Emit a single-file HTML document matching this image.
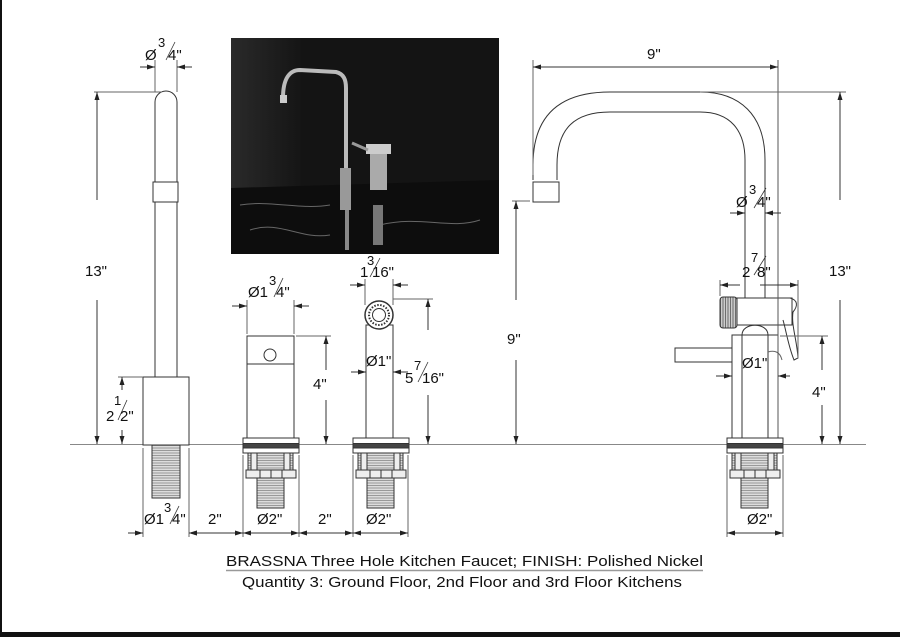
<!DOCTYPE html>
<html><head><meta charset="utf-8"><style>
html,body{margin:0;padding:0;background:#fff;}
svg{display:block;}
text{font-family:"Liberation Sans",sans-serif;fill:#111;}
</style></head><body>
<svg width="900" height="637" viewBox="0 0 900 637" xmlns="http://www.w3.org/2000/svg">
<defs>
<pattern id="thr" width="4" height="2.5" patternUnits="userSpaceOnUse"><rect width="4" height="2.5" fill="#ddd"/><line x1="0" y1="0.5" x2="4" y2="0.5" stroke="#888" stroke-width="0.8"/></pattern>
<pattern id="knurl" width="2.5" height="4" patternUnits="userSpaceOnUse"><rect width="2.5" height="4" fill="#ccc"/><line x1="0.5" y1="0" x2="0.5" y2="4" stroke="#555" stroke-width="0.8"/></pattern>
<marker id="a" markerWidth="8" markerHeight="6" refX="8" refY="3" orient="auto" markerUnits="userSpaceOnUse"><path d="M0,0.5 L8,3 L0,5.5z" fill="#222"/></marker>
<linearGradient id="wall" x1="0" x2="1"><stop offset="0" stop-color="#2a2a2a"/><stop offset="1" stop-color="#151515"/></linearGradient>
</defs>
<rect width="900" height="637" fill="#fff"/>
<rect x="0" y="0" width="2" height="637" fill="#111"/>
<rect x="0" y="632" width="900" height="5" fill="#111"/>

<!-- ground line -->
<line x1="70" y1="444.5" x2="866" y2="444.5" stroke="#888" stroke-width="1"/>

<g fill="none" stroke="#333" stroke-width="1">
<!-- LEFT FAUCET -->
<path d="M155,377 V102 A11,11 0 0 1 177,102 V377" fill="#fff"/>
<rect x="153" y="182" width="25" height="20" fill="#fff"/>
<rect x="143" y="377" width="46" height="68" fill="#fff"/>
<rect x="152" y="445" width="28" height="53" fill="url(#thr)"/>
<!-- dims left -->
<line x1="155" y1="60" x2="155" y2="92" stroke="#666"/>
<line x1="177" y1="60" x2="177" y2="92" stroke="#666"/>
<line x1="140" y1="67" x2="155" y2="67" marker-end="url(#a)"/>
<line x1="192" y1="67" x2="177" y2="67" marker-end="url(#a)"/>
<line x1="94" y1="92" x2="162" y2="92" stroke="#666"/>
<line x1="97" y1="200" x2="97" y2="92" marker-end="url(#a)"/>
<line x1="97" y1="300" x2="97" y2="444" marker-end="url(#a)"/>
<line x1="118" y1="377" x2="143" y2="377" stroke="#666"/>
<line x1="122" y1="390" x2="122" y2="377" marker-end="url(#a)"/>
<line x1="122" y1="430" x2="122" y2="444" marker-end="url(#a)"/>
<line x1="143" y1="448" x2="143" y2="537" stroke="#666"/>
<line x1="189" y1="448" x2="189" y2="537" stroke="#666"/>

<!-- MIDDLE HANDLE UNIT -->
<rect x="247" y="336" width="47" height="102" fill="#fff"/>
<line x1="247" y1="364" x2="294" y2="364"/>
<circle cx="270" cy="355" r="6"/>
<line x1="247" y1="300" x2="247" y2="334" stroke="#666"/>
<line x1="294" y1="300" x2="294" y2="334" stroke="#666"/>
<line x1="232" y1="306" x2="247" y2="306" marker-end="url(#a)"/>
<line x1="309" y1="306" x2="294" y2="306" marker-end="url(#a)"/>
<line x1="296" y1="336" x2="331" y2="336" stroke="#666"/>
<line x1="326" y1="370" x2="326" y2="336" marker-end="url(#a)"/>
<line x1="326" y1="400" x2="326" y2="444" marker-end="url(#a)"/>

<!-- SPRAYER UNIT -->
<rect x="366" y="325" width="27" height="113" fill="#fff"/>
<circle cx="379" cy="315" r="14" fill="#fff" stroke-width="1.5"/>
<circle cx="379" cy="315" r="10" stroke-dasharray="1.5,1.5" stroke-width="2"/>
<circle cx="379" cy="315" r="6.5"/>
<line x1="365" y1="279" x2="365" y2="305" stroke="#666"/>
<line x1="393" y1="279" x2="393" y2="305" stroke="#666"/>
<line x1="350" y1="285" x2="365" y2="285" marker-end="url(#a)"/>
<line x1="408" y1="285" x2="393" y2="285" marker-end="url(#a)"/>
<line x1="351" y1="372" x2="366" y2="372" marker-end="url(#a)"/>
<line x1="408" y1="372" x2="393" y2="372" marker-end="url(#a)"/>
<line x1="393" y1="299" x2="433" y2="299" stroke="#666"/>
<line x1="428" y1="330" x2="428" y2="299" marker-end="url(#a)"/>
<line x1="428" y1="395" x2="428" y2="444" marker-end="url(#a)"/>

<!-- RIGHT FAUCET -->
<path d="M533,180 V165 C533,115 560,92 610,92 H700 C740,92 765,115 765,160 V298" fill="none"/>
<path d="M557,180 V165 C557,128 575,112 610,112 H700 C730,112 745,130 745,160 V298" fill="none"/>
<rect x="533" y="182" width="26" height="20" fill="#fff"/>
<!-- sprayer head -->
<rect x="737" y="298" width="55" height="27" fill="#fff"/>
<rect x="720" y="297" width="17" height="31" rx="3" fill="url(#knurl)"/>
<path d="M790,298 C798,300 798,306 793,312 C791,325 797,340 798,358 L794,360 C788,345 786,330 783,320"/>
<path d="M742,335 C742,322 768,322 768,335" fill="#fff"/>
<rect x="732" y="335" width="46" height="103" fill="#fff"/>
<line x1="742" y1="335" x2="742" y2="438"/>
<line x1="768" y1="335" x2="768" y2="438"/>
<rect x="675" y="348" width="57" height="14" fill="#fff"/>
<path d="M768,352 C775,350 780,352 782,360" stroke="#666"/>
<!-- right dims -->
<line x1="533" y1="60" x2="533" y2="175" stroke="#666"/>
<line x1="778" y1="60" x2="778" y2="444" stroke="#555"/>
<line x1="548" y1="67" x2="533" y2="67" marker-end="url(#a)"/>
<line x1="760" y1="67" x2="778" y2="67" marker-end="url(#a)"/>
<line x1="548" y1="67" x2="760" y2="67"/>
<line x1="700" y1="92" x2="846" y2="92" stroke="#666"/>
<line x1="840" y1="200" x2="840" y2="92" marker-end="url(#a)"/>
<line x1="840" y1="300" x2="840" y2="444" marker-end="url(#a)"/>
<line x1="512" y1="201" x2="530" y2="201" stroke="#666"/>
<line x1="516" y1="300" x2="516" y2="201" marker-end="url(#a)"/>
<line x1="516" y1="360" x2="516" y2="444" marker-end="url(#a)"/>
<line x1="730" y1="213" x2="745" y2="213" marker-end="url(#a)"/>
<line x1="781" y1="213" x2="765" y2="213" marker-end="url(#a)"/>
<line x1="720" y1="280" x2="720" y2="296" stroke="#666"/>
<line x1="798" y1="280" x2="798" y2="358" stroke="#666"/>
<line x1="740" y1="285" x2="720" y2="285" marker-end="url(#a)"/>
<line x1="760" y1="285" x2="798" y2="285" marker-end="url(#a)"/>
<line x1="716" y1="376" x2="732" y2="376" marker-end="url(#a)"/>
<line x1="790" y1="376" x2="778" y2="376" marker-end="url(#a)"/>
<line x1="780" y1="336" x2="828" y2="336" stroke="#666"/>
<line x1="822" y1="370" x2="822" y2="336" marker-end="url(#a)"/>
<line x1="822" y1="405" x2="822" y2="444" marker-end="url(#a)"/>
</g>

<!-- base fittings -->
<g stroke="#333" stroke-width="1">
 <g id="fit">
  <rect x="243" y="438" width="56" height="15" fill="#fff"/>
  <rect x="243" y="443.5" width="56" height="4.5" fill="#444"/>
  <rect x="248" y="453" width="45" height="17" fill="url(#thr)"/>
  <rect x="251" y="453" width="6" height="17" fill="#eee"/>
  <rect x="284" y="453" width="6" height="17" fill="#eee"/>
  <rect x="246" y="470" width="50" height="8" fill="#eee"/>
  <line x1="260" y1="470" x2="260" y2="478"/><line x1="271" y1="470" x2="271" y2="478"/><line x1="282" y1="470" x2="282" y2="478"/>
  <rect x="257" y="478" width="27" height="30" fill="url(#thr)"/>
 </g>
 <use href="#fit" x="110"/>
 <use href="#fit" x="484"/>
</g>
<g fill="none" stroke="#333" stroke-width="1">
<line x1="243" y1="455" x2="243" y2="537" stroke="#666"/>
<line x1="299" y1="455" x2="299" y2="537" stroke="#666"/>
<line x1="353" y1="455" x2="353" y2="537" stroke="#666"/>
<line x1="408" y1="455" x2="408" y2="537" stroke="#666"/>
<line x1="727" y1="455" x2="727" y2="537" stroke="#666"/>
<line x1="783" y1="455" x2="783" y2="537" stroke="#666"/>
<line x1="128" y1="533" x2="143" y2="533" marker-end="url(#a)"/>
<line x1="205" y1="533" x2="189" y2="533" marker-end="url(#a)"/>
<line x1="216" y1="533" x2="189" y2="533" marker-end="url(#a)"/>
<line x1="216" y1="533" x2="243" y2="533" marker-end="url(#a)"/>
<line x1="271" y1="533" x2="243" y2="533" marker-end="url(#a)"/>
<line x1="271" y1="533" x2="299" y2="533" marker-end="url(#a)"/>
<line x1="326" y1="533" x2="299" y2="533" marker-end="url(#a)"/>
<line x1="326" y1="533" x2="353" y2="533" marker-end="url(#a)"/>
<line x1="380" y1="533" x2="353" y2="533" marker-end="url(#a)"/>
<line x1="380" y1="533" x2="408" y2="533" marker-end="url(#a)"/>
<line x1="755" y1="533" x2="727" y2="533" marker-end="url(#a)"/>
<line x1="755" y1="533" x2="783" y2="533" marker-end="url(#a)"/>
</g>

<!-- PHOTO -->
<g>
<rect x="231" y="38" width="268" height="216" fill="#1b1b1b"/>
<rect x="231" y="38" width="70" height="150" fill="url(#wall)"/>
<rect x="301" y="38" width="198" height="150" fill="#141414"/>
<path d="M231,188 L499,180 L499,254 L231,254z" fill="#0d0d0d"/>
<path d="M250,230 C280,220 300,240 330,235 M380,225 C420,215 450,230 480,220 M240,205 C270,200 300,210 330,205" stroke="#666" stroke-width="1" fill="none"/>
<path d="M283,98 C283,78 290,70 300,70 L336,72 C344,74 346,80 346,88 L346,172" stroke="#bbb" stroke-width="4" fill="none"/>
<rect x="280" y="95" width="7" height="8" fill="#ccc"/>
<rect x="340" y="168" width="11" height="42" fill="#999"/>
<rect x="370" y="148" width="17" height="42" fill="#aaa"/>
<rect x="366" y="144" width="25" height="10" fill="#ccc"/>
<line x1="352" y1="143" x2="368" y2="150" stroke="#999" stroke-width="3"/>
<rect x="345" y="210" width="4" height="40" fill="#888"/>
<rect x="373" y="205" width="10" height="40" fill="#777"/>
</g>

<!-- TEXT -->
<g font-size="15">
<text x="145" y="60">Ø</text><text x="158" y="47" font-size="13">3</text>
<line x1="175" y1="42" x2="166" y2="60" stroke="#333" stroke-width="0.8"/><text x="168" y="60">4"</text>
<text x="85" y="276">13"</text>
<text x="114" y="405" font-size="13">1</text><line x1="127" y1="400" x2="118" y2="420" stroke="#333" stroke-width="0.8"/>
<text x="106" y="421">2</text><text x="120" y="421">2"</text>
<text x="144" y="524">Ø1</text><text x="164" y="512" font-size="13">3</text>
<line x1="179" y1="506" x2="170" y2="524" stroke="#333" stroke-width="0.8"/><text x="172" y="524">4"</text>
<text x="208" y="524">2"</text>
<text x="257" y="524">Ø2"</text>
<text x="318" y="524">2"</text>
<text x="366" y="524">Ø2"</text>
<text x="747" y="524">Ø2"</text>
<text x="248" y="297">Ø1</text><text x="269" y="285" font-size="13">3</text>
<line x1="283" y1="278" x2="274" y2="297" stroke="#333" stroke-width="0.8"/><text x="276" y="297">4"</text>
<text x="313" y="389">4"</text>
<text x="367" y="265" font-size="13">3</text><line x1="380" y1="258" x2="370" y2="277" stroke="#333" stroke-width="0.8"/>
<text x="360" y="277">1</text><text x="372" y="277">16"</text>
<text x="366" y="366">Ø1"</text>
<text x="414" y="370" font-size="13">7</text><line x1="428" y1="362" x2="418" y2="382" stroke="#333" stroke-width="0.8"/>
<text x="405" y="383">5</text><text x="422" y="383">16"</text>
<text x="647" y="59">9"</text>
<text x="829" y="276">13"</text>
<text x="507" y="344">9"</text>
<text x="736" y="207">Ø</text><text x="749" y="194" font-size="13">3</text>
<line x1="766" y1="188" x2="754" y2="208" stroke="#333" stroke-width="0.8"/><text x="757" y="207">4"</text>
<text x="751" y="262" font-size="13">7</text><line x1="766" y1="256" x2="754" y2="275" stroke="#333" stroke-width="0.8"/>
<text x="742" y="277">2</text><text x="757" y="277">8"</text>
<text x="742" y="368">Ø1"</text>
<text x="812" y="397">4"</text>
</g>
<text x="226" y="566" font-size="15" textLength="477" lengthAdjust="spacingAndGlyphs">BRASSNA Three Hole Kitchen Faucet; FINISH: Polished Nickel</text>
<line x1="226" y1="570.5" x2="703" y2="570.5" stroke="#999" stroke-width="1.5"/>
<text x="242" y="587" font-size="15" textLength="440" lengthAdjust="spacingAndGlyphs">Quantity 3: Ground Floor, 2nd Floor and 3rd Floor Kitchens</text>
</svg>
</body></html>
